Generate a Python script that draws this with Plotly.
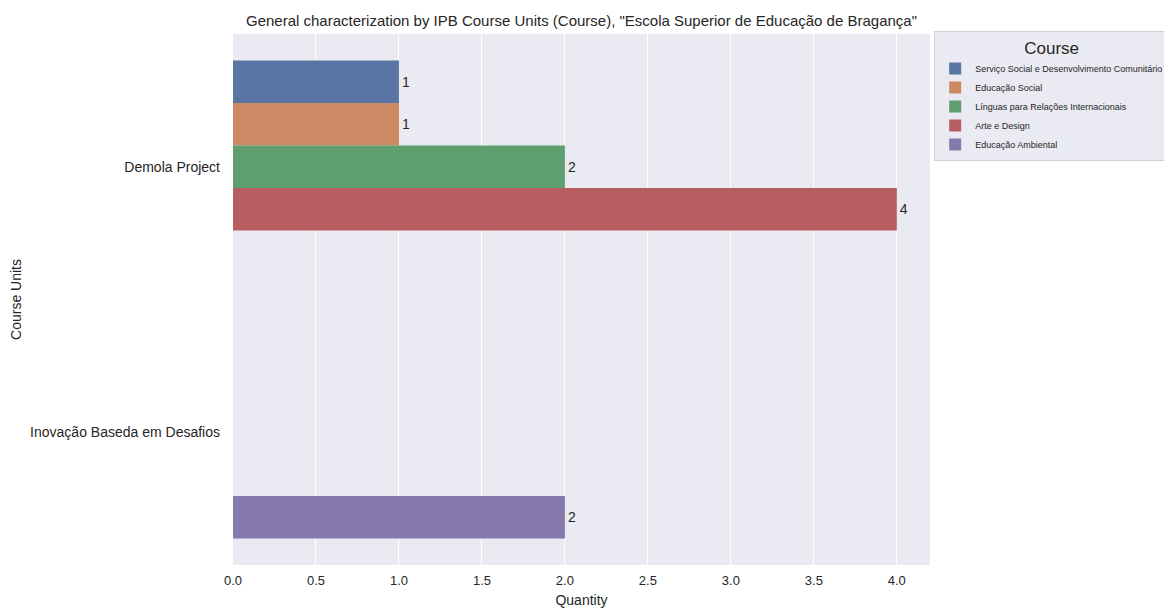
import plotly.graph_objects as go

units = ["Demola Project", "Inovação Baseda em Desafios"]
courses = [
    "Serviço Social e Desenvolvimento Comunitário",
    "Educação Social",
    "Línguas para Relações Internacionais",
    "Arte e Design",
    "Educação Ambiental",
]
values = {
    "Serviço Social e Desenvolvimento Comunitário": [1, None],
    "Educação Social": [1, None],
    "Línguas para Relações Internacionais": [2, None],
    "Arte e Design": [4, None],
    "Educação Ambiental": [None, 2],
}
colors = ["#5875A4", "#CC8963", "#5F9E6E", "#B55D60", "#857AAB"]
x_ticks = [0.0, 0.5, 1.0, 1.5, 2.0, 2.5, 3.0, 3.5, 4.0]

TXT = "#262626"
W, H = 1164, 600
fig = go.Figure()
for c, col in zip(courses, colors):
    vals = values[c]
    fig.add_trace(go.Bar(
        y=units, x=vals, name=c, orientation="h",
        marker=dict(color=col, line=dict(width=0)),
        text=[("" if v is None else str(v)) for v in vals],
        textposition="outside", cliponaxis=False,
        textfont=dict(size=14, color=TXT),
    ))

fig.update_layout(
    width=W, height=H,
    barmode="group", bargap=0.2, bargroupgap=0,
    paper_bgcolor="white", plot_bgcolor="#EAEAF2",
    font=dict(family="Liberation Sans, Arial, sans-serif", color=TXT, size=12),
    margin=dict(l=225, r=242, t=26, b=43, autoexpand=False),
    title=dict(text='General characterization by IPB Course Units (Course), "Escola Superior de Educação de Bragança"',
               x=573.5 / W, xref="container", xanchor="center",
               y=1 - 13 / H, yref="container", yanchor="middle",
               font=dict(size=15, color=TXT)),
    legend=dict(
        title=dict(text="Course", font=dict(size=17, color=TXT), side="top center"),
        x=1.006, xanchor="left", y=1.006, yanchor="top",
        bgcolor="#EAEAF2", bordercolor="#D0D0D8", borderwidth=1,
        font=dict(size=9, color=TXT), itemsizing="constant", tracegroupgap=0,
        itemwidth=30,
    ),
    xaxis=dict(
        range=[0, 4.2], tickvals=x_ticks, ticktext=[f"{t:.1f}" for t in x_ticks],
        showgrid=True, gridcolor="white", gridwidth=1, zeroline=False,
        tickfont=dict(size=13, color=TXT), automargin=False, ticklabelstandoff=6,
        title=dict(text="Quantity", standoff=8, font=dict(size=14, color=TXT)),
        ticks="", showline=False,
    ),
    yaxis=dict(
        categoryorder="array", categoryarray=units, autorange="reversed",
        showgrid=False, zeroline=False, ticks="", automargin=False,
        ticklabelstandoff=12, tickfont=dict(size=14, color=TXT),
        title=dict(text="Course Units", standoff=22, font=dict(size=14, color=TXT)),
    ),
)
fig.write_html("out.html")
